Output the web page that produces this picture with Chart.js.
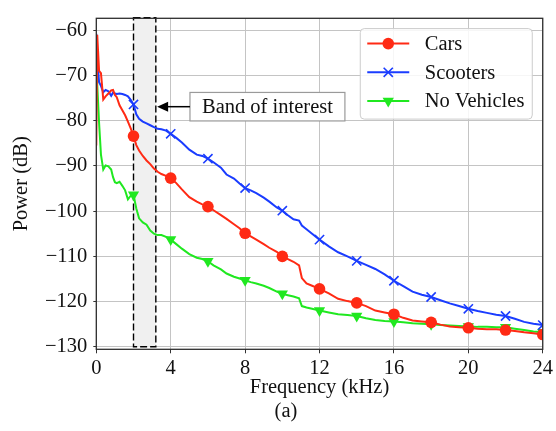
<!DOCTYPE html>
<html>
<head>
<meta charset="utf-8">
<title>Power spectrum</title>
<script src="https://cdn.jsdelivr.net/npm/chart.js@4.4.1/dist/chart.umd.min.js"></script>
<style>
  html, body { margin: 0; padding: 0; background: #ffffff; }
  canvas { display: block; }
</style>
</head>
<body>
<canvas id="spectrum" width="556" height="431"></canvas>
<script>
// Frequency grid (kHz) shared by the three spectra
const freqKHz = [0, 0.05, 0.15, 0.25, 0.375, 0.5, 0.65, 0.8, 0.9, 1.0, 1.1, 1.25, 1.4, 1.55, 1.7, 1.85,
  2.0, 2.15, 2.3, 2.5, 2.7, 2.9, 3.1, 3.3, 3.5, 3.75, 4.0, 4.3, 4.6, 5.0, 5.4, 5.7, 6.0, 6.3, 6.7, 7.0,
  7.4, 7.7, 8.0, 8.3, 8.6, 9.0, 9.3, 9.7, 10.0, 10.3, 10.6, 10.9, 11.05, 11.3, 11.6, 12.0, 12.5, 13.0,
  13.5, 14.0, 14.5, 15.0, 15.5, 16.0, 16.5, 17.0, 17.5, 18.0, 18.5, 19.0, 19.5, 20.0, 20.5, 21.0, 21.5,
  22.0, 22.5, 23.0, 23.5, 24.0];

// Power (dB) per series
const carsDb = [-85.5, -61.0, -69.0, -69.5, -75.3, -74.6, -74.0, -73.3, -73.2, -74.3, -74.8, -76.6, -77.7, -78.8, -80.2, -81.7,
  -83.4, -85.4, -86.6, -87.8, -88.8, -89.6, -90.6, -91.3, -91.8, -92.2, -92.7, -93.8, -95.2, -96.9, -97.9, -98.5, -99.0, -99.8, -100.9, -101.7,
  -102.9, -103.8, -104.9, -105.6, -106.3, -107.3, -108.1, -109.0, -110.0, -110.6, -111.2, -112.0, -114.8, -116.0, -116.5, -117.2, -118.2, -119.4,
  -119.9, -120.3, -121.0, -122.0, -122.4, -122.8, -123.6, -124.2, -124.4, -124.6, -125.1, -125.5, -125.7, -125.8, -126.0, -126.1, -126.1,
  -126.3, -126.5, -126.8, -127.0, -127.3];

const scootersDb = [-60.8, -66.0, -71.5, -72.3, -73.7, -73.2, -73.5, -74.5, -73.8, -74.0, -74.1, -74.0, -74.1, -74.3, -74.6, -75.4,
  -76.4, -78.6, -79.6, -80.2, -80.6, -81.0, -81.4, -81.8, -81.9, -82.2, -82.9, -83.8, -84.8, -86.4, -87.5, -87.8, -88.4, -89.2, -90.4, -91.9,
  -92.8, -93.9, -94.9, -95.4, -96.0, -97.0, -97.9, -99.2, -99.9, -100.9, -101.8, -102.1, -103.2, -104.0, -105.0, -106.3, -107.8, -109.1,
  -110.0, -111.0, -111.9, -112.8, -114.0, -115.4, -116.6, -117.8, -118.5, -119.0, -119.7, -120.4, -121.0, -121.6, -122.1, -122.5, -122.9,
  -123.2, -123.8, -124.5, -124.9, -125.2];

const noVehiclesDb = [-61.0, -72.0, -80.5, -87.5, -90.8, -89.9, -90.1, -90.8, -92.5, -93.6, -93.8, -93.5, -94.4, -95.4, -97.4, -96.6,
  -96.4, -99.4, -101.6, -102.5, -103.0, -104.3, -105.0, -105.3, -105.3, -105.7, -106.3, -107.3, -108.3, -109.5, -110.3, -110.6, -111.1, -112.0, -112.9, -113.8,
  -114.5, -114.9, -115.3, -115.7, -116.0, -116.5, -117.0, -117.8, -118.3, -118.6, -118.9, -119.3, -121.0, -121.3, -121.6, -122.0, -122.4, -122.8,
  -123.0, -123.2, -123.7, -124.1, -124.3, -124.4, -124.6, -124.8, -124.9, -125.0, -125.2, -125.3, -125.4, -125.5, -125.6, -125.6, -125.7,
  -125.7, -126.0, -126.3, -126.6, -126.8];

const seriesNames = ['Cars', 'Scooters', 'No Vehicles'];
const markerFreqs = [2, 4, 6, 8, 10, 12, 14, 16, 18, 20, 22, 24];
const xTickValues = [0, 4, 8, 12, 16, 20, 24];
const yTickValues = [-130, -120, -110, -100, -90, -80, -70, -60];
const yLimits = [-130.56, -57.35];

// Highlighted band (kHz) and its annotation
const bandKHz = [2, 3.2];
const bandFloorDb = -130;
const noteLabel = 'Band of interest';
const noteTip = [3.27, -76.9];
const noteTextAt = [9.2, -76.9];
const panelLabel = '(a)';

const SERIF = '"Liberation Serif", "Times New Roman", serif';
const FONT_PX = 20.5;
const INK = '#111111';
const RED = '#ff2a14';
const BLUE = '#1a3cff';
const GREEN = '#20e820';

Chart.defaults.font.family = SERIF;
Chart.defaults.font.size = FONT_PX;
Chart.defaults.color = INK;

const toPoints = ys => freqKHz.map((f, i) => ({ x: f, y: ys[i] }));
const hasMarker = ctx => markerFreqs.includes(freqKHz[ctx.dataIndex]);

function lineSeries(label, values, color, style, radius, extra) {
  return Object.assign({
    label: label,
    data: toPoints(values),
    borderColor: color,
    backgroundColor: color,
    borderWidth: 2,
    pointStyle: style,
    pointRadius: ctx => hasMarker(ctx) ? radius : 0,
    pointHoverRadius: 0,
    pointBorderColor: color,
    pointBackgroundColor: color,
    pointBorderWidth: 0,
    tension: 0,
    fill: false,
    clip: 0
  }, extra || {});
}

function drawMarker(ctx, style, x, y, r, color) {
  ctx.save();
  ctx.fillStyle = color;
  ctx.strokeStyle = color;
  ctx.beginPath();
  if (style === 'circle') {
    ctx.arc(x, y, r, 0, Math.PI * 2);
    ctx.fill();
  } else if (style === 'crossRot') {
    const d = r * Math.SQRT1_2;
    ctx.lineWidth = 1.6;
    ctx.moveTo(x - d, y - d); ctx.lineTo(x + d, y + d);
    ctx.moveTo(x - d, y + d); ctx.lineTo(x + d, y - d);
    ctx.stroke();
  } else {
    const s = r * Math.sqrt(3) / 2;
    ctx.moveTo(x, y + r);
    ctx.lineTo(x - s, y - r / 2);
    ctx.lineTo(x + s, y - r / 2);
    ctx.closePath();
    ctx.fill();
  }
  ctx.restore();
}

const decorations = {
  id: 'decorations',
  beforeDatasetsDraw(chart) {
    const { ctx, chartArea, scales } = chart;
    const x0 = scales.x.getPixelForValue(bandKHz[0]);
    const x1 = scales.x.getPixelForValue(bandKHz[1]);
    const yb = scales.y.getPixelForValue(bandFloorDb);
    const yt = chartArea.top - 0.5;
    ctx.save();
    ctx.fillStyle = '#f0f0f0';
    ctx.fillRect(x0, yt, x1 - x0, yb - yt);
    ctx.strokeStyle = '#000000';
    ctx.lineWidth = 1.4;
    ctx.setLineDash([7, 3]);
    ctx.strokeRect(x0, yt, x1 - x0, yb - yt);
    ctx.restore();
  },
  afterDatasetsDraw(chart) {
    const { ctx, chartArea, scales } = chart;
    // axes frame
    ctx.save();
    ctx.strokeStyle = '#2e2e2e';
    ctx.lineWidth = 1.3;
    ctx.strokeRect(chartArea.left, chartArea.top, chartArea.right - chartArea.left, chartArea.bottom - chartArea.top);
    ctx.restore();

    // annotation box with arrow pointing at the band
    ctx.save();
    ctx.font = FONT_PX + 'px ' + SERIF;
    const tw = ctx.measureText(noteLabel).width;
    const cx = scales.x.getPixelForValue(noteTextAt[0]);
    const cy = scales.y.getPixelForValue(noteTextAt[1]);
    const bw = tw + 24, bh = 28.5;
    const bx = cx - bw / 2, by = cy - bh / 2;
    ctx.fillStyle = '#ffffff';
    ctx.fillRect(bx, by, bw, bh);
    ctx.strokeStyle = '#9a9a9a';
    ctx.lineWidth = 1.2;
    ctx.strokeRect(bx, by, bw, bh);
    ctx.fillStyle = INK;
    ctx.textAlign = 'center';
    ctx.textBaseline = 'middle';
    ctx.fillText(noteLabel, cx, cy + 1);
    const tx = scales.x.getPixelForValue(noteTip[0]);
    const ty = scales.y.getPixelForValue(noteTip[1]);
    const head = 11, half = 5;
    ctx.strokeStyle = '#000000';
    ctx.lineWidth = 1.5;
    ctx.beginPath();
    ctx.moveTo(bx, ty);
    ctx.lineTo(tx + head - 1, ty);
    ctx.stroke();
    ctx.fillStyle = '#000000';
    ctx.beginPath();
    ctx.moveTo(tx, ty);
    ctx.lineTo(tx + head, ty - half);
    ctx.lineTo(tx + head, ty + half);
    ctx.closePath();
    ctx.fill();
    ctx.restore();

    // legend
    const lw = 172, lh = 90.5;
    const lx = chartArea.right - 10.5 - lw;
    const ly = chartArea.top + 10.3;
    ctx.save();
    ctx.fillStyle = 'rgba(255,255,255,0.85)';
    ctx.strokeStyle = '#cccccc';
    ctx.lineWidth = 1;
    ctx.beginPath();
    ctx.roundRect(lx, ly, lw, lh, 4);
    ctx.fill();
    ctx.stroke();
    ctx.font = FONT_PX + 'px ' + SERIF;
    ctx.textAlign = 'left';
    ctx.textBaseline = 'middle';
    chart.data.datasets.forEach((ds, i) => {
      const rowY = ly + 15 + i * 28.7;
      ctx.strokeStyle = ds.borderColor;
      ctx.lineWidth = 2;
      ctx.beginPath();
      ctx.moveTo(lx + 7, rowY);
      ctx.lineTo(lx + 49, rowY);
      ctx.stroke();
      drawMarker(ctx, ds.pointStyle, lx + 28, rowY, ds.legendRadius, ds.borderColor);
      ctx.fillStyle = INK;
      ctx.fillText(ds.label, lx + 64.5, rowY + 1);
    });
    ctx.restore();

    // panel label
    ctx.save();
    ctx.font = FONT_PX + 'px ' + SERIF;
    ctx.fillStyle = INK;
    ctx.textAlign = 'center';
    ctx.textBaseline = 'middle';
    ctx.fillText(panelLabel, 286, 412);
    ctx.restore();
  }
};

const minusLabel = v => (v < 0 ? '\u2212' + Math.abs(v) : String(v));

new Chart(document.getElementById('spectrum'), {
  type: 'line',
  data: {
    datasets: [
      lineSeries(seriesNames[0], carsDb, RED, 'circle', 5.8, { legendRadius: 5.8 }),
      lineSeries(seriesNames[1], scootersDb, BLUE, 'crossRot', 6.5, { pointBorderWidth: 1.6, legendRadius: 6.5 }),
      lineSeries(seriesNames[2], noVehiclesDb, GREEN, 'triangle', 6.5, { pointRotation: 180, legendRadius: 6.5 })
    ]
  },
  options: {
    responsive: false,
    devicePixelRatio: 1,
    animation: false,
    events: [],
    layout: { padding: { top: 9, right: 11.5, left: 0, bottom: 0 } },
    plugins: { legend: { display: false }, tooltip: { enabled: false } },
    scales: {
      x: {
        type: 'linear',
        min: 0,
        max: 24,
        afterBuildTicks: s => { s.ticks = xTickValues.map(v => ({ value: v })); },
        afterFit: s => { s.height = 81.7; },
        ticks: { color: INK, padding: 3, maxRotation: 0, autoSkip: false, callback: v => minusLabel(v) },
        grid: { color: '#c4c4c4', lineWidth: 1, tickLength: 4, tickColor: '#333333', tickWidth: 1 },
        border: { display: false },
        title: { display: true, text: 'Frequency (kHz)', color: INK, padding: { top: 0, bottom: 31 } }
      },
      y: {
        type: 'linear',
        min: yLimits[0],
        max: yLimits[1],
        afterBuildTicks: s => { s.ticks = yTickValues.map(v => ({ value: v })); },
        afterFit: s => { s.width = 96.3; },
        ticks: { color: INK, padding: 6, autoSkip: false, callback: v => minusLabel(v) },
        grid: { color: '#c4c4c4', lineWidth: 1, tickLength: 3, tickColor: '#333333', tickWidth: 1 },
        border: { display: false },
        title: { display: true, text: 'Power (dB)', color: INK, padding: { top: 9, bottom: 0 } }
      }
    }
  },
  plugins: [decorations]
});
</script>
</body>
</html>
